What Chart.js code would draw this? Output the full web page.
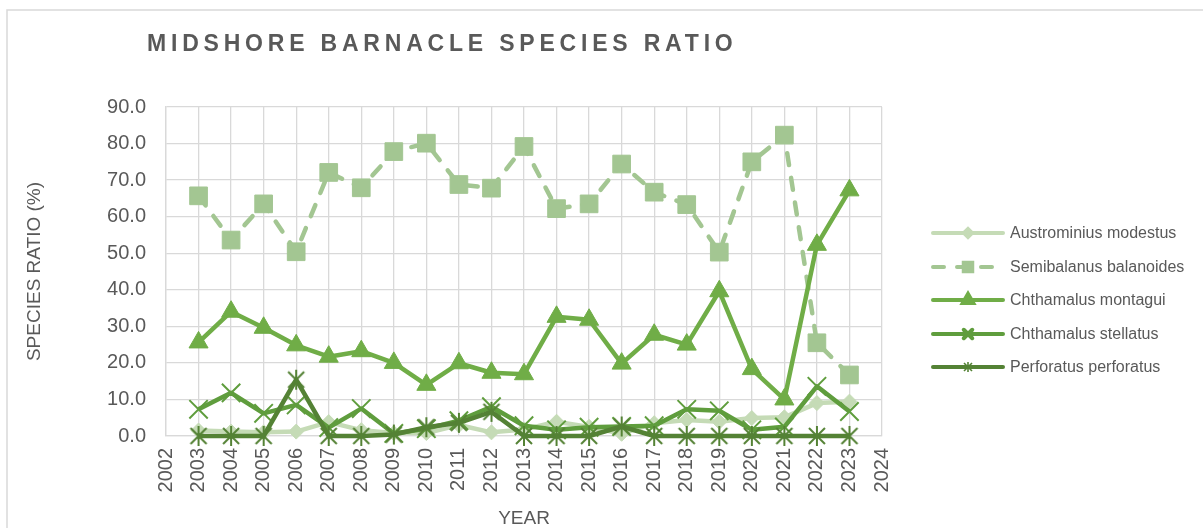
<!DOCTYPE html>
<html>
<head>
<meta charset="utf-8">
<title>Midshore barnacle species ratio</title>
<script src="https://cdn.jsdelivr.net/npm/chart.js@4/dist/chart.umd.min.js"></script>
<style>
  html, body { margin: 0; padding: 0; background: #ffffff; }
  #wrap { width: 1203px; height: 528px; position: relative; overflow: hidden; }
  canvas { display: block; }
</style>
</head>
<body>
<div id="wrap"><canvas id="chart" width="1203" height="528"></canvas></div>
<script>
// Survey years
const years = [2003, 2004, 2005, 2006, 2007, 2008, 2009, 2010, 2011, 2012, 2013,
               2014, 2015, 2016, 2017, 2018, 2019, 2020, 2021, 2022, 2023];

// Species ratio (%) per year
const austrominiusModestus = [1.5, 1.2, 1.0, 1.2, 3.8, 1.6, 0.8, 0.8, 3.0, 1.0, 1.8,
                              3.9, 2.5, 0.6, 3.5, 4.4, 3.9, 4.9, 5.1, 9.0, 9.4];
const semibalanusBalanoides = [65.7, 53.6, 63.5, 50.4, 72.1, 67.9, 77.8, 80.1, 68.8, 67.8, 79.2,
                               62.2, 63.5, 74.4, 66.7, 63.3, 50.3, 75.0, 82.3, 25.5, 16.7];
const chthamalusMontagui = [25.6, 34.0, 29.6, 24.8, 21.7, 23.2, 20.0, 14.0, 19.9, 17.3, 16.9,
                            32.6, 31.8, 19.8, 27.7, 25.0, 39.6, 18.3, 10.0, 52.3, 67.2];
const chthamalusStellatus = [7.3, 11.8, 6.2, 8.5, 2.3, 7.5, 0.7, 2.0, 4.2, 8.0, 2.8,
                             1.7, 2.4, 2.6, 2.8, 7.3, 6.9, 1.7, 2.5, 13.6, 6.7];
const perforatusPerforatus = [0.0, 0.0, 0.0, 15.4, 0.0, 0.0, 0.4, 2.4, 3.6, 6.6, 0.0,
                              0.0, 0.0, 2.6, 0.0, 0.0, 0.0, 0.0, 0.0, 0.0, 0.0];

const seriesNames = ['Austrominius modestus', 'Semibalanus balanoides', 'Chthamalus montagui',
                     'Chthamalus stellatus', 'Perforatus perforatus'];

// Axis settings
const xMin = 2002, xMax = 2024;
const yMin = 0, yMax = 90, yStep = 10;

const chartTitle = 'MIDSHORE BARNACLE SPECIES RATIO';
const xTitle = 'YEAR';
const yTitle = 'SPECIES RATIO (%)';

const FONT = '"Liberation Sans", Arial, Helvetica, sans-serif';
const TEXT = '#595959';
const GRID = '#d9d9d9';

function pts(values) {
  return years.map((yr, i) => ({ x: yr, y: values[i] }));
}

// Asterisk marker: a vertical stroke crossed by an X
function asterisk(size, color, lw) {
  const c = document.createElement('canvas');
  c.width = size; c.height = size;
  const g = c.getContext('2d');
  const m = size / 2, r = size / 2 - 1;
  const d = r * 0.8;
  g.strokeStyle = color;
  g.lineWidth = lw;
  g.beginPath();
  g.moveTo(m, m - r); g.lineTo(m, m + r);
  g.moveTo(m - d, m - d); g.lineTo(m + d, m + d);
  g.moveTo(m - d, m + d); g.lineTo(m + d, m - d);
  g.stroke();
  return c;
}

const styles = [
  { color: '#c5dbb6', point: 'rectRot', radius: 7.5, pbw: 1, dash: [], legendR: 4 },
  { color: '#a3c692', point: 'rect', radius: 12.5, pbw: 1, dash: [12, 13], legendR: 6 },
  { color: '#70ad47', point: 'triangle', radius: 11, pbw: 1, dash: [], legendR: 6 },
  { color: '#5f9d3d', point: 'crossRot', radius: 13, pbw: 2, dash: [], legendR: 6 },
  { color: '#548235', point: null, radius: 10, pbw: 2, dash: [], legendR: 5 }
];
styles[4].point = asterisk(22, styles[4].color, 2);
styles[4].legendPoint = asterisk(12, styles[4].color, 1.6);

const seriesValues = [austrominiusModestus, semibalanusBalanoides, chthamalusMontagui,
                      chthamalusStellatus, perforatusPerforatus];

const datasets = seriesValues.map((vals, i) => {
  const s = styles[i];
  return {
    label: seriesNames[i],
    data: pts(vals),
    borderColor: s.color,
    backgroundColor: s.color,
    borderWidth: 4.5,
    borderDash: s.dash,
    borderCapStyle: s.dash.length ? 'round' : 'butt',
    borderJoinStyle: 'round',
    pointStyle: s.point,
    pointRadius: s.radius,
    pointHoverRadius: s.radius,
    pointBackgroundColor: s.color,
    pointBorderColor: s.color,
    pointBorderWidth: s.pbw,
    tension: 0,
    fill: false,
    clip: false,
    order: seriesValues.length - i
  };
});

// Outer frame around the chart
const framePlugin = {
  id: 'frame',
  beforeDraw(chart) {
    const ctx = chart.ctx;
    ctx.save();
    ctx.strokeStyle = GRID;
    ctx.lineWidth = 1.5;
    ctx.strokeRect(7, 10, 1400, 800);
    ctx.restore();
  }
};

// Spaced-out heading
const headingPlugin = {
  id: 'heading',
  afterDraw(chart) {
    const ctx = chart.ctx;
    ctx.save();
    ctx.fillStyle = TEXT;
    ctx.font = 'bold 23px ' + FONT;
    ctx.textBaseline = 'alphabetic';
    ctx.textAlign = 'left';
    const spacing = 4.8;
    if ('letterSpacing' in ctx) {
      ctx.letterSpacing = spacing + 'px';
      ctx.fillText(chartTitle, 147, 51);
    } else {
      let x = 147;
      for (const ch of chartTitle) {
        ctx.fillText(ch, x, 51);
        x += ctx.measureText(ch).width + spacing;
      }
    }
    ctx.restore();
  }
};

// Legend: line sample with marker, then the series name
const legendPlugin = {
  id: 'sideLegend',
  afterDraw(chart) {
    const ctx = chart.ctx;
    const x0 = 933, x1 = 1003, tx = 1010;
    const rowY = [233, 267, 300, 334, 367];
    chart.data.datasets.forEach((ds, i) => {
      const s = styles[i];
      const y = rowY[i];
      ctx.save();
      ctx.strokeStyle = s.color;
      ctx.lineWidth = 4;
      ctx.lineCap = 'round';
      ctx.setLineDash(s.dash.length ? [11, 13] : []);
      ctx.beginPath();
      ctx.moveTo(x0, y);
      ctx.lineTo(x1, y);
      ctx.stroke();
      ctx.setLineDash([]);
      ctx.fillStyle = s.color;
      Chart.helpers.drawPoint(ctx, {
        pointStyle: s.legendPoint || s.point, radius: s.legendR, borderWidth: s.pbw, rotation: 0
      }, (x0 + x1) / 2, y);
      ctx.fillStyle = TEXT;
      ctx.font = '16px ' + FONT;
      ctx.textBaseline = 'middle';
      ctx.textAlign = 'left';
      ctx.fillText(ds.label, tx, y + 1);
      ctx.restore();
    });
  }
};

new Chart(document.getElementById('chart'), {
  type: 'line',
  data: { datasets },
  plugins: [framePlugin, headingPlugin, legendPlugin],
  options: {
    responsive: false,
    animation: false,
    devicePixelRatio: 1,
    layout: { padding: { left: 0, top: 107, right: 321, bottom: 0 } },
    plugins: {
      legend: { display: false },
      title: { display: false },
      tooltip: { enabled: false }
    },
    scales: {
      x: {
        type: 'linear',
        min: xMin,
        max: xMax,
        afterFit(scale) { scale.height = 92; },
        grid: { color: GRID, lineWidth: 1.3, drawTicks: false },
        border: { display: true, color: GRID, width: 1.3 },
        ticks: {
          stepSize: 1,
          autoSkip: false,
          minRotation: 90,
          maxRotation: 90,
          padding: 12,
          color: TEXT,
          font: { family: FONT, size: 20 },
          callback: (v) => String(v)
        },
        title: {
          display: true,
          text: xTitle,
          color: TEXT,
          font: { family: FONT, size: 19 },
          padding: { top: 0, bottom: -2 }
        }
      },
      y: {
        min: yMin,
        max: yMax,
        afterFit(scale) { scale.width = 166; },
        grid: { color: GRID, lineWidth: 1.3, drawTicks: false },
        border: { display: true, color: GRID, width: 1.3 },
        ticks: {
          stepSize: yStep,
          padding: 20,
          color: TEXT,
          font: { family: FONT, size: 20 },
          callback: (v) => v.toFixed(1)
        },
        title: {
          display: true,
          text: yTitle,
          color: TEXT,
          font: { family: FONT, size: 19 },
          padding: { top: 23, bottom: 0 }
        }
      }
    }
  }
});
</script>
</body>
</html>
